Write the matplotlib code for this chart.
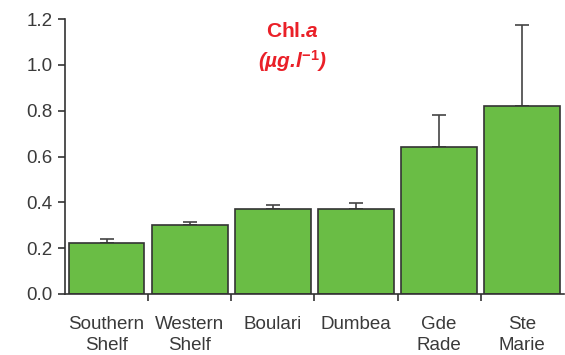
import matplotlib
matplotlib.use("Agg")
import matplotlib.pyplot as plt
import numpy as np

# Datos
sitios = ["Southern\nShelf", "Western\nShelf", "Boulari", "Dumbea", "Gde\nRade", "Ste\nMarie"]
chla = [0.222, 0.300, 0.370, 0.370, 0.640, 0.820]
error_sup = [0.020, 0.015, 0.020, 0.025, 0.140, 0.355]

plt.rcParams["font.family"] = ["Liberation Sans", "DejaVu Sans"]
plt.rcParams["mathtext.fontset"] = "custom"
plt.rcParams["mathtext.rm"] = "Liberation Sans:bold"
plt.rcParams["mathtext.it"] = "Liberation Sans:italic:bold"
plt.rcParams["mathtext.bf"] = "Liberation Sans:bold"

fig = plt.figure(figsize=(5.65, 3.55), dpi=100)
ax = fig.add_axes([0.115, 0.172, 0.883, 0.774])

x = np.arange(len(sitios))
ax.bar(x, chla, width=0.91, color="#6abd45", edgecolor="#333333", linewidth=1.2, zorder=2)
ax.errorbar(x, chla, yerr=[np.zeros(len(chla)), error_sup], fmt="none",
            ecolor="#444444", elinewidth=1.2, capsize=5, capthick=1.2, zorder=1)

ax.set_xlim(-0.5, 5.5)
ax.set_ylim(0, 1.2)
ax.set_yticks(np.arange(0, 1.21, 0.2))
ax.set_yticklabels([f"{v:.1f}" for v in np.arange(0, 1.21, 0.2)])
ax.set_xticks(x)
ax.set_xticklabels(sitios, linespacing=1.3)
ax.set_xticks(np.arange(0.5, 5.0, 1.0), minor=True)
ax.tick_params(axis="x", which="major", length=0, pad=16, labelsize=13.5, labelcolor="#3a3a3a")
ax.tick_params(axis="x", which="minor", length=5, width=1.2, color="#333333", direction="out")
ax.tick_params(axis="y", length=5, width=1.2, color="#333333", labelsize=13.5,
               labelcolor="#3a3a3a", pad=4)

for lado in ["top", "right"]:
    ax.spines[lado].set_visible(False)
for lado in ["left", "bottom"]:
    ax.spines[lado].set_linewidth(1.2)
    ax.spines[lado].set_color("#333333")

rojo = "#ea2028"
fig.text(0.518, 0.912, "Chl.$a$", color=rojo, fontsize=15, fontweight="bold", ha="center", va="center")
fig.text(0.518, 0.828, r"(µg.l$^{\mathit{-1}}$)", color=rojo, fontsize=15, fontweight="bold",
         fontstyle="italic", ha="center", va="center")

fig.savefig("out.png", dpi=100)
